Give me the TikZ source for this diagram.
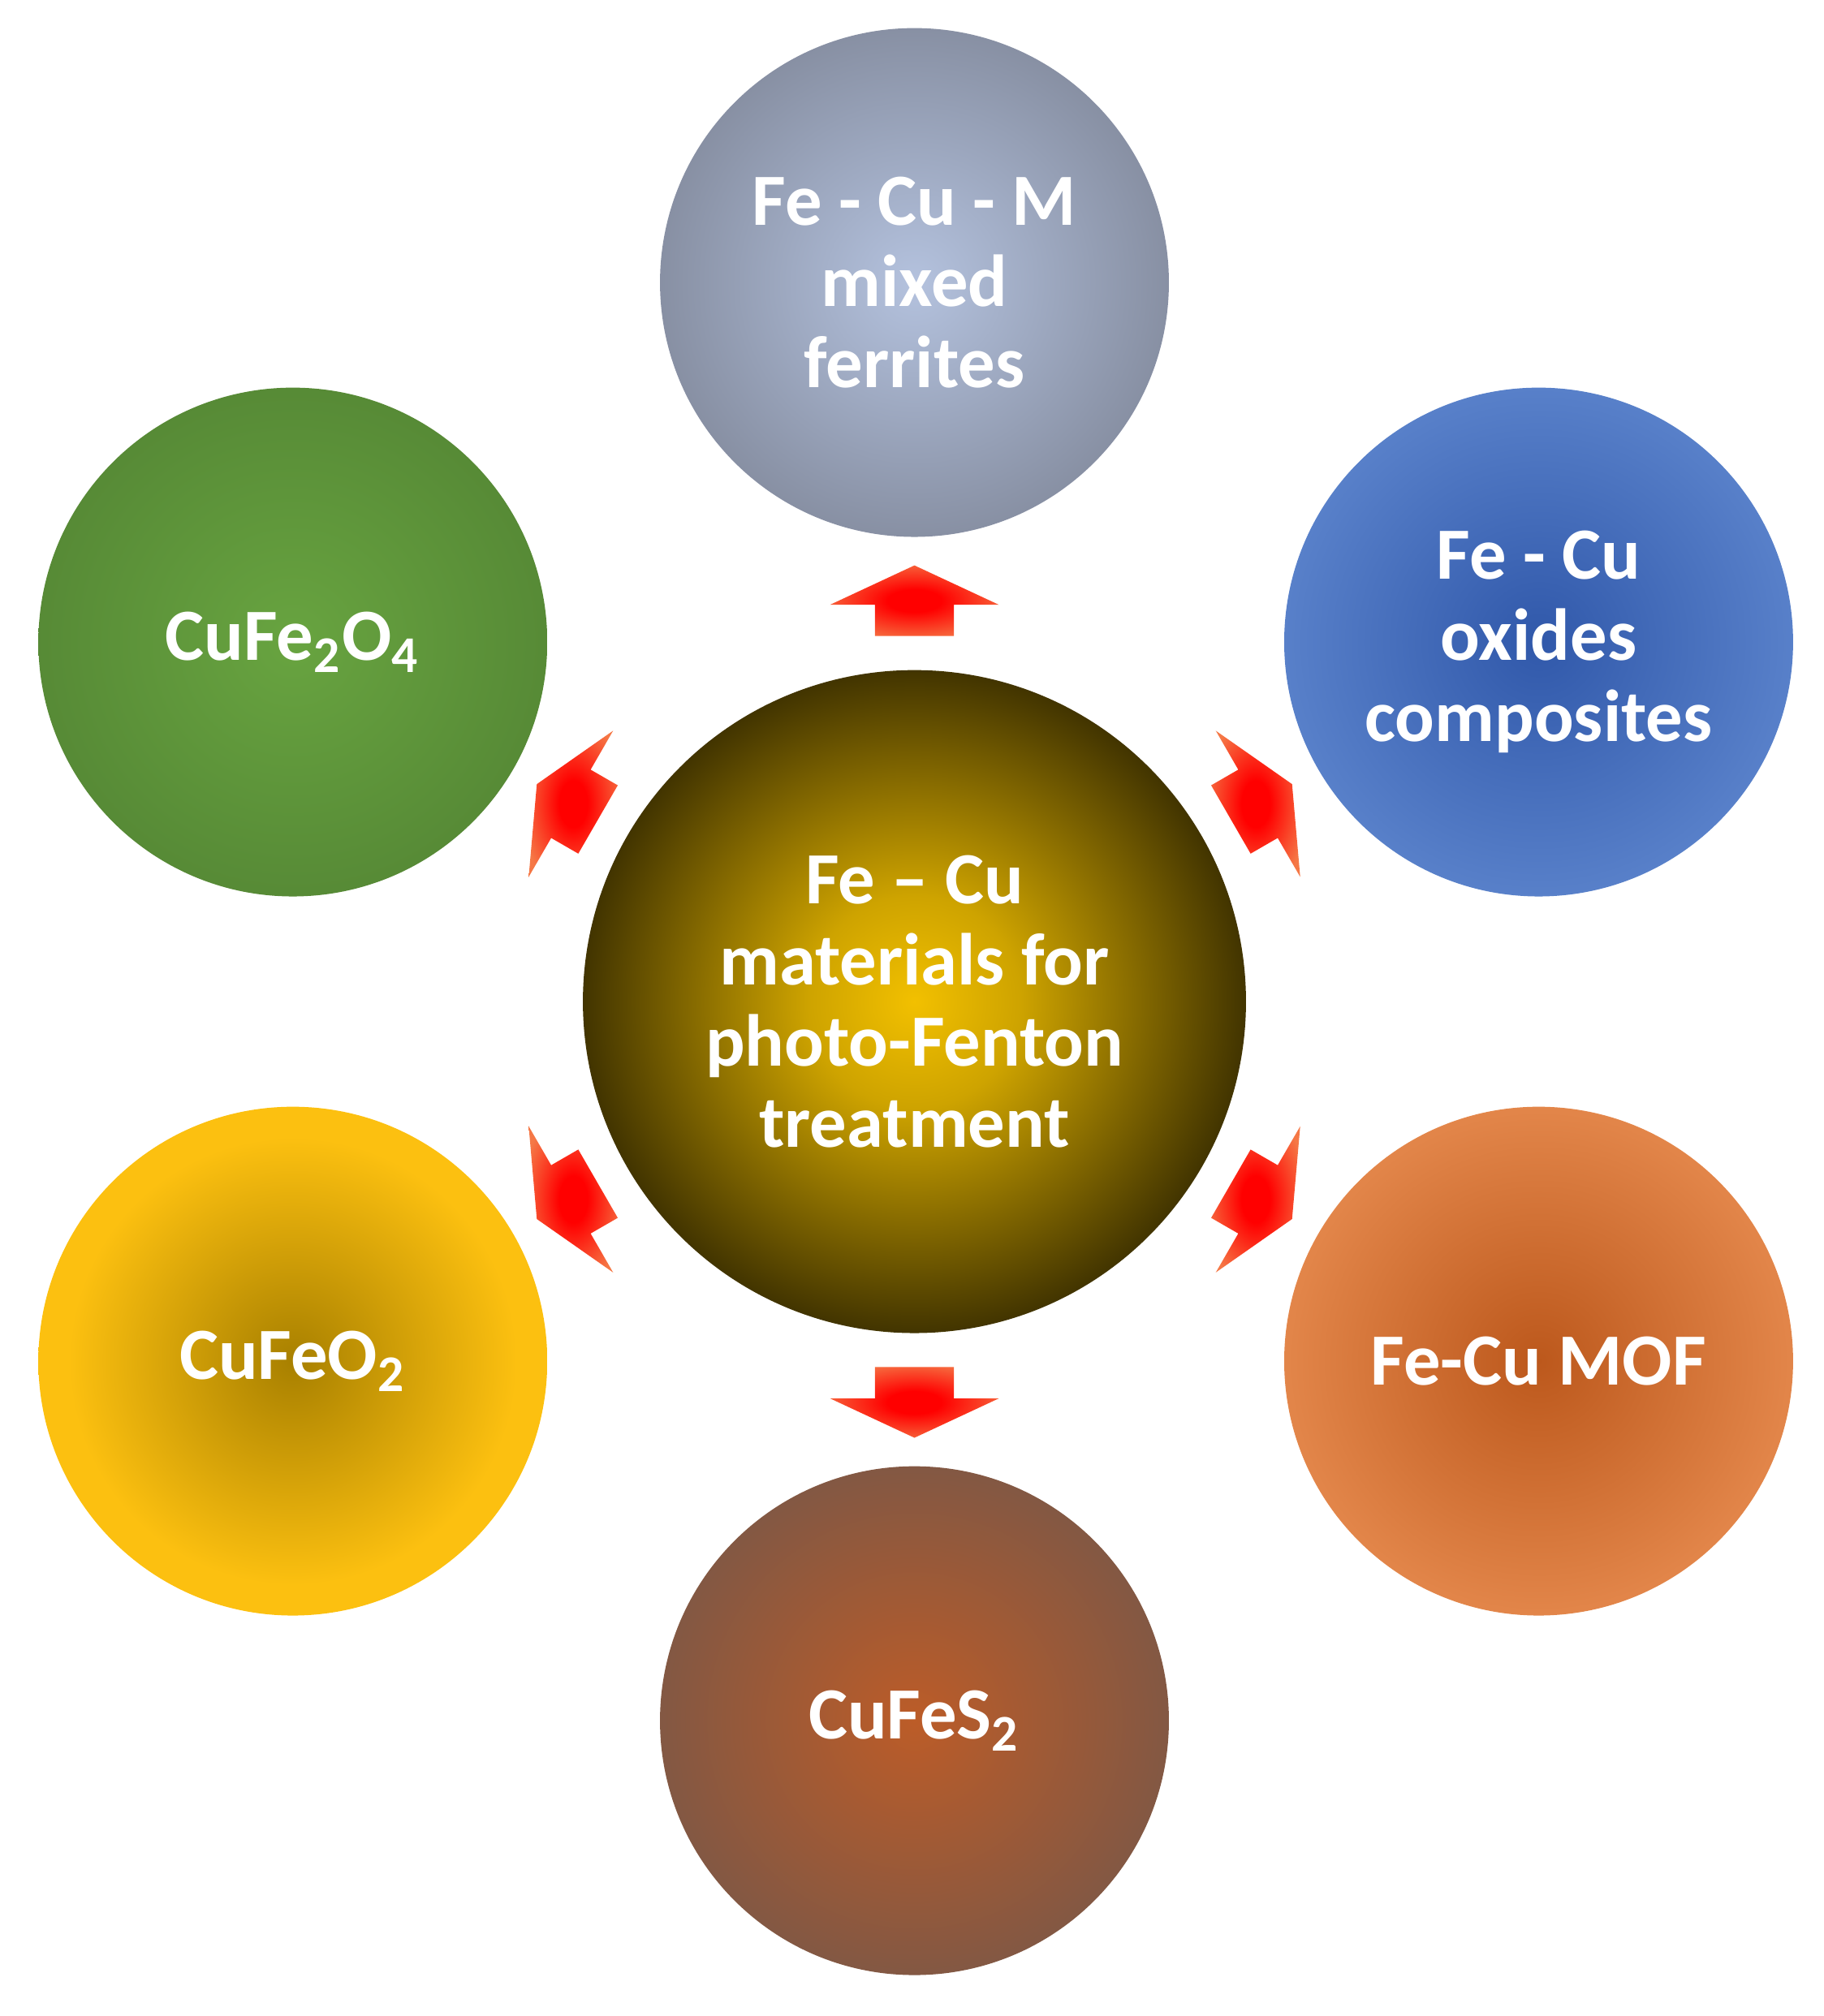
\documentclass[tikz,border=0pt]{standalone}
\usepackage{fontspec}
\setmainfont{Carlito}
\usetikzlibrary{shapes.arrows}
\definecolor{topin}{RGB}{180,194,222}\definecolor{topout}{RGB}{118,124,140}
\definecolor{trin}{RGB}{48,88,170}\definecolor{trout}{RGB}{104,144,214}
\definecolor{brin}{RGB}{188,88,28}\definecolor{brout}{RGB}{242,152,92}
\definecolor{bin}{RGB}{188,92,40}\definecolor{bout}{RGB}{108,86,78}
\definecolor{blin}{RGB}{168,128,0}\definecolor{blout}{RGB}{252,192,16}
\definecolor{tlin}{RGB}{104,164,64}\definecolor{tlout}{RGB}{80,128,50}
\definecolor{cin}{RGB}{242,192,0}\definecolor{cout}{RGB}{0,0,0}
\definecolor{arin}{RGB}{255,0,0}\definecolor{arout}{RGB}{245,120,70}
\pgfdeclareradialshading{shtop}{\pgfpoint{0bp}{0bp}}{color(0bp)=(topin);color(35bp)=(topout);color(50bp)=(topout)}
\pgfdeclareradialshading{shtr}{\pgfpoint{0bp}{0bp}}{color(0bp)=(trin);color(35bp)=(trout);color(50bp)=(trout)}
\pgfdeclareradialshading{shbr}{\pgfpoint{0bp}{0bp}}{color(0bp)=(brin);color(35bp)=(brout);color(50bp)=(brout)}
\pgfdeclareradialshading{shb}{\pgfpoint{0bp}{0bp}}{color(0bp)=(bin);color(35bp)=(bout);color(50bp)=(bout)}
\pgfdeclareradialshading{shbl}{\pgfpoint{0bp}{0bp}}{color(0bp)=(blin);color(22bp)=(blout);color(50bp)=(blout)}
\pgfdeclareradialshading{shtl}{\pgfpoint{0bp}{0bp}}{color(0bp)=(tlin);color(35bp)=(tlout);color(50bp)=(tlout)}
\pgfdeclareradialshading{shc}{\pgfpoint{0bp}{0bp}}{color(0bp)=(cin);color(8bp)=(cin!85!black);color(33bp)=(cout);color(50bp)=(cout)}
\pgfdeclareradialshading{shar}{\pgfpoint{0bp}{0bp}}{color(0bp)=(arin);color(8bp)=(arin);color(30bp)=(arout);color(50bp)=(arout)}
\begin{document}
\begin{tikzpicture}[x=0.01cm,y=-0.01cm,
  ball/.style={circle,minimum size=3.96cm,inner sep=0pt,text=white,align=center,
    font=\fontsize{16.3}{18}\selectfont\bfseries},
  barrow/.style={single arrow,shading=shar,minimum height=0.55cm,
    single arrow head extend=0.35cm,single arrow tip angle=130,inner sep=0pt}]
\useasboundingbox (0,0) rectangle (1420,1570);
\node[ball,minimum size=5.16cm,shading=shc] (c0) at (712,780) {Fe -- Cu\\materials for\\photo-Fenton\\treatment};
\node[ball,shading=shtop] (c1) at (712,220) {Fe - Cu - M\\mixed\\ferrites};
\node[ball,shading=shtr] (c2) at (1198,500) {Fe - Cu\\oxides\\composites};
\node[ball,shading=shbr] (c3) at (1198,1060) {Fe-Cu MOF};
\node[ball,shading=shb] (c4) at (712,1340) {CuFeS\textsubscript{2}};
\node[ball,shading=shbl] (c5) at (228,1060) {CuFeO\textsubscript{2}};
\node[ball,shading=shtl] (c6) at (228,500) {CuFe\textsubscript{2}O\textsubscript{4}};
\node[barrow,rotate=90] (a1) at (712,475) {\rule[-0.3cm]{0pt}{0.6cm}};
\node[barrow,rotate=30] (a2) at (976,628) {\rule[-0.3cm]{0pt}{0.6cm}};
\node[barrow,rotate=-30] (a3) at (976,932) {\rule[-0.3cm]{0pt}{0.6cm}};
\node[barrow,rotate=-90] (a4) at (712,1085) {\rule[-0.3cm]{0pt}{0.6cm}};
\node[barrow,rotate=210] (a5) at (448,932) {\rule[-0.3cm]{0pt}{0.6cm}};
\node[barrow,rotate=150] (a6) at (448,628) {\rule[-0.3cm]{0pt}{0.6cm}};
\end{tikzpicture}
\end{document}
